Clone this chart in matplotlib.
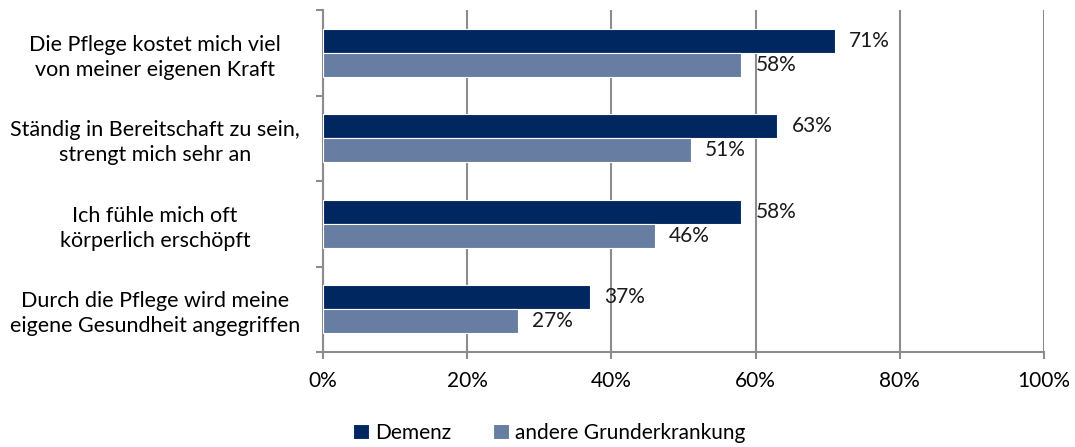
import matplotlib.pyplot as plt
import numpy as np

plt.rcParams['font.family'] = ['Lato', 'DejaVu Sans']

categories = ['Die Pflege kostet mich viel\nvon meiner eigenen Kraft',
              'Ständig in Bereitschaft zu sein,\nstrengt mich sehr an',
              'Ich fühle mich oft\nkörperlich erschöpft',
              'Durch die Pflege wird meine\neigene Gesundheit angegriffen']
demenz = [71, 63, 58, 37]
andere = [58, 51, 46, 27]
series_names = ['Demenz', 'andere Grunderkrankung']
c_dark = '#012760'
c_light = '#687da2'
grid_c = '#8c8c8c'
fs = 15

fig = plt.figure(figsize=(10.75, 4.47), dpi=100)
ax = fig.add_axes([323 / 1075, 1 - 352 / 447, (1044 - 323) / 1075, (352 - 10) / 447])

y = np.arange(len(categories))
h = 0.28
b1 = ax.barh(y - h / 2, demenz, height=h, color=c_dark, edgecolor='white', linewidth=0.8,
             label=series_names[0], zorder=3)
b2 = ax.barh(y + h / 2, andere, height=h, color=c_light, edgecolor='white', linewidth=0.8,
             label=series_names[1], zorder=3)
for bars, vals in [(b1, demenz), (b2, andere)]:
    for bar, v in zip(bars, vals):
        ax.text(v + 2.0, bar.get_y() + bar.get_height() / 2, f'{v}%',
                va='center', ha='left', fontsize=fs, color='#1a1a1a', zorder=4)

ax.set_xlim(0, 100)
ax.set_ylim(3.5, -0.5)
ax.set_xticks(range(0, 101, 20))
ax.set_xticklabels([f'{t}%' for t in range(0, 101, 20)], fontsize=fs)
ax.set_yticks(y)
ax.set_yticklabels(categories, fontsize=15.5, ha='center', linespacing=1.3)
# pad is in points: label centres sit ~168 px left of the axis
ax.tick_params(axis='y', length=0, pad=168 * 0.72)
ax.set_yticks(np.arange(-0.5, 4, 1), minor=True)
ax.tick_params(axis='y', which='minor', length=5, color=grid_c, width=1.5)
ax.tick_params(axis='x', length=5, color=grid_c, width=1.5, pad=9)
ax.grid(axis='x', color=grid_c, linewidth=1.5, zorder=0)
for s in ['top', 'right']:
    ax.spines[s].set_visible(False)
for s in ['left', 'bottom']:
    ax.spines[s].set_color(grid_c)
    ax.spines[s].set_linewidth(1.5)

fig.legend(handles=[b1, b2], loc='center', bbox_to_anchor=(0.511, 0.032), ncol=2,
           frameon=False, fontsize=fs, handlelength=0.75, handleheight=0.75,
           handletextpad=0.3, columnspacing=2.0)

fig.savefig('out.png', dpi=100)
